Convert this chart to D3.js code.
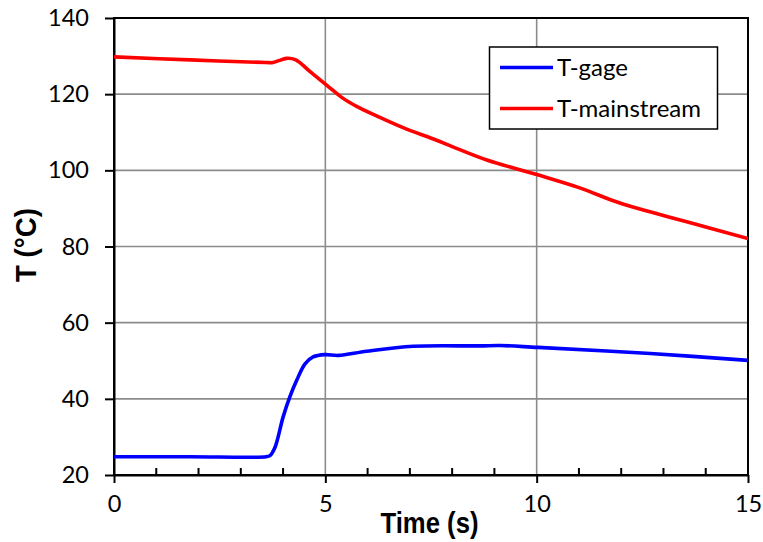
<!DOCTYPE html>
<html>
<head>
<meta charset="utf-8">
<script src="https://cdn.jsdelivr.net/npm/d3@7"></script>
<style>
  html, body { margin: 0; padding: 0; background: #fff; }
  svg { display: block; }
</style>
</head>
<body>
<div id="chart"></div>
<script>
// Gage and mainstream temperature histories
const gageTime = [0, 1.8, 3.6, 3.69, 3.81, 4.0, 4.16, 4.32, 4.52, 4.71, 4.99, 5.31, 5.98, 7.08, 8.66, 9.13, 10.03, 12.69, 15];
const gageTemp = [24.8, 24.8, 24.8, 25.1, 27.3, 35.2, 40.5, 44.8, 49.2, 51.0, 51.6, 51.4, 52.5, 53.8, 53.9, 54.0, 53.5, 51.9, 50.1];

const mainTime = [0, 1.8, 3.6, 3.76, 3.9, 4.08, 4.3, 4.64, 5.03, 5.42, 5.74, 6.21, 6.84, 7.63, 8.03, 8.82, 10, 11.02, 11.97, 13.55, 15];
const mainTemp = [129.8, 129.0, 128.3, 128.3, 128.8, 129.4, 129.0, 125.9, 122.4, 118.9, 116.8, 114.3, 111.2, 107.9, 106.1, 102.7, 98.9, 95.4, 91.4, 86.5, 82.1];

const seriesNames = ["T-gage", "T-mainstream"];
const seriesColors = ["#0000ff", "#ff0000"];

const xTicks = [0, 5, 10, 15];
const xMinorTicks = d3.range(0, 16, 1);
const yTicks = [20, 40, 60, 80, 100, 120, 140];

const W = 763, H = 542;
const plot = { left: 114, right: 748, top: 18, bottom: 475 };

const svg = d3.select("#chart").append("svg")
  .attr("width", W).attr("height", H);

const x = d3.scaleLinear().domain([0, 15]).range([plot.left, plot.right]);
const y = d3.scaleLinear().domain([20, 140]).range([plot.bottom, plot.top]);

// gridlines
const grid = svg.append("g");
grid.selectAll("line.gx").data(xTicks.filter(d => d > 0 && d < 15)).enter().append("line")
  .attr("x1", d => x(d)).attr("x2", d => x(d))
  .attr("y1", plot.top).attr("y2", plot.bottom)
  .attr("stroke", "#8c8c8c").attr("stroke-width", 1.6);
grid.selectAll("line.gy").data(yTicks.filter(d => d > 20 && d < 140)).enter().append("line")
  .attr("x1", plot.left).attr("x2", plot.right)
  .attr("y1", d => y(d)).attr("y2", d => y(d))
  .attr("stroke", "#8c8c8c").attr("stroke-width", 1.6);

// plot frame
svg.append("rect")
  .attr("x", plot.left).attr("y", plot.top)
  .attr("width", plot.right - plot.left).attr("height", plot.bottom - plot.top)
  .attr("fill", "none").attr("stroke", "#000").attr("stroke-width", 2);

// x axis: major ticks cross outward, minor ticks inward
const xAxis = svg.append("g").attr("transform", `translate(0,${plot.bottom})`)
  .call(d3.axisBottom(x).tickValues(xTicks).tickSize(8).tickSizeOuter(0).tickPadding(12).tickFormat(d3.format("d")));
xAxis.select(".domain").attr("stroke-width", 2);
xAxis.selectAll(".tick line").attr("stroke-width", 2);
xAxis.selectAll(".tick text")
  .attr("font-family", "Lato, 'Open Sans', sans-serif").attr("font-size", 23.5).attr("fill", "#000");
svg.append("g").selectAll("line").data(xMinorTicks.filter(d => xTicks.indexOf(d) < 0)).enter().append("line")
  .attr("x1", d => x(d)).attr("x2", d => x(d))
  .attr("y1", plot.bottom).attr("y2", plot.bottom - 7)
  .attr("stroke", "#000").attr("stroke-width", 2);

// y axis
const yAxis = svg.append("g").attr("transform", `translate(${plot.left},0)`)
  .call(d3.axisLeft(y).tickValues(yTicks).tickSize(9).tickSizeOuter(0).tickPadding(16).tickFormat(d3.format("d")));
yAxis.select(".domain").attr("stroke-width", 2);
yAxis.selectAll(".tick line").attr("stroke-width", 2);
yAxis.selectAll(".tick text")
  .attr("font-family", "Lato, 'Open Sans', sans-serif").attr("font-size", 23.5).attr("fill", "#000");

// axis titles
svg.append("text")
  .attr("x", (380 + 479) / 2).attr("y", 533)
  .attr("text-anchor", "middle")
  .attr("font-family", "'Liberation Sans', Arial, sans-serif").attr("font-weight", "bold")
  .attr("font-size", 29)
  .attr("textLength", 98).attr("lengthAdjust", "spacingAndGlyphs")
  .text("Time (s)");
svg.append("text")
  .attr("transform", "translate(36,245) rotate(-90)")
  .attr("text-anchor", "middle")
  .attr("font-family", "'Liberation Sans', Arial, sans-serif").attr("font-weight", "bold")
  .attr("font-size", 29)
  .attr("textLength", 74).attr("lengthAdjust", "spacingAndGlyphs")
  .text("T (°C)");

// series lines
const line = d3.line().x(d => x(d[0])).y(d => y(d[1])).curve(d3.curveCatmullRom.alpha(0.5));
const series = [d3.zip(gageTime, gageTemp), d3.zip(mainTime, mainTemp)];
svg.append("clipPath").attr("id", "plotclip").append("rect")
  .attr("x", plot.left).attr("y", plot.top)
  .attr("width", plot.right - plot.left).attr("height", plot.bottom - plot.top);
svg.append("g").attr("clip-path", "url(#plotclip)")
  .selectAll("path").data(series).enter().append("path")
  .attr("d", line)
  .attr("fill", "none")
  .attr("stroke", (d, i) => seriesColors[i])
  .attr("stroke-width", 3.6)
  .attr("stroke-linejoin", "round").attr("stroke-linecap", "round");

// legend
const legend = svg.append("g");
legend.append("rect")
  .attr("x", 489.5).attr("y", 47)
  .attr("width", 228).attr("height", 82)
  .attr("fill", "#fff").attr("stroke", "#000").attr("stroke-width", 1.5);
const items = legend.selectAll("g.item").data(seriesNames).enter().append("g")
  .attr("transform", (d, i) => `translate(0,${67.5 + i * 41})`);
items.append("line")
  .attr("x1", 500).attr("x2", 553).attr("y1", 0).attr("y2", 0)
  .attr("stroke", (d, i) => seriesColors[i]).attr("stroke-width", 3.6);
items.append("text")
  .attr("x", 557).attr("y", 0).attr("dy", "0.36em")
  .attr("font-family", "Lato, 'Open Sans', sans-serif").attr("font-size", 24)
  .attr("fill", "#000")
  .text(d => d);
</script>
</body>
</html>
